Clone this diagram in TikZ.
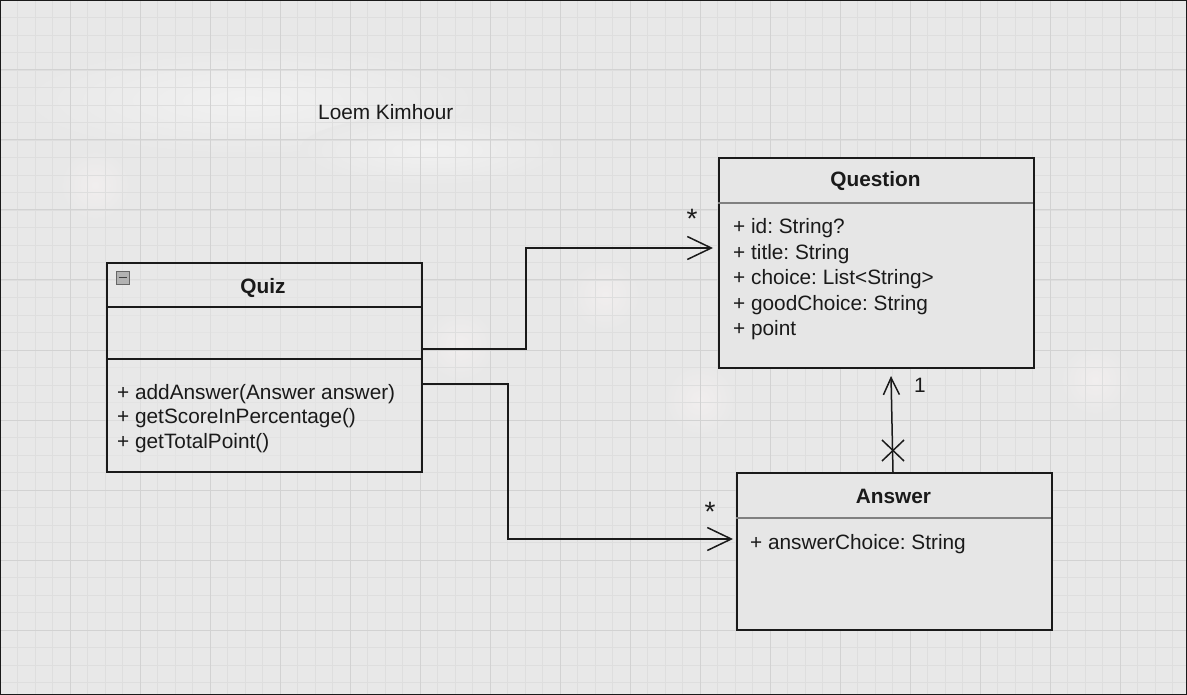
\documentclass[tikz,border=0pt]{standalone}
\usepackage{fontspec}
\setmainfont{Liberation Sans}
\usetikzlibrary{arrows.meta}
\definecolor{bg}{HTML}{E8E8E8}
\definecolor{gridminor}{HTML}{DEDEDE}
\definecolor{gridmajor}{HTML}{D2D2D2}
\definecolor{boxfill}{HTML}{E6E6E6}
\definecolor{ink}{HTML}{1A1A1A}
\tikzset{
  umlbox/.style={draw=ink, line width=1.8pt, rectangle, anchor=north west, inner sep=0pt},
  txt/.style={anchor=base west, inner sep=0pt, text=ink, font=\fontsize{20.8}{25}\selectfont\frenchspacing},
  ttl/.style={anchor=base, inner sep=0pt, text=ink, font=\fontsize{20.8}{25}\selectfont\bfseries},
  star/.style={anchor=base, inner sep=0pt, text=ink, font=\fontsize{28}{30}\selectfont},
  conn/.style={draw=ink, line width=1.5pt},
  openarrow/.style={-{Straight Barb[length=24pt,width=23pt,line width=1.5pt]}},
  smallarrow/.style={-{Straight Barb[length=17pt,width=16pt,line width=1.5pt]}},
}
\begin{document}
\begin{tikzpicture}[x=1pt,y=-1pt]
\useasboundingbox (0,0) rectangle (1187,695);
\fill[bg] (0,0) rectangle (1187,695);
% soft haze
\foreach \cx/\cy/\rx/\ry in {250/100/230/55, 430/150/130/35, 900/250/140/80}{
  \shade[inner color=white!40!bg, outer color=bg] (\cx,\cy) ellipse[x radius=\rx, y radius=\ry];
}
\foreach \cx/\cy in {95/185, 460/345, 700/400, 605/295, 1095/380}{
  \shade[inner color=red!3!white!40!bg, outer color=bg] (\cx,\cy) circle[radius=35];
}
% grid
\foreach \i in {1,...,67}{
  \draw[gridminor, line width=0.8pt] (\i*17.5,0) -- (\i*17.5,695);
}
\foreach \j in {1,...,39}{
  \draw[gridminor, line width=0.8pt] (0,\j*17.5) -- (1187,\j*17.5);
}
\foreach \i in {1,...,16}{
  \draw[gridmajor, line width=1pt] (\i*70,0) -- (\i*70,695);
}
\foreach \j in {1,...,9}{
  \draw[gridmajor, line width=1pt] (0,\j*70) -- (1187,\j*70);
}
\draw[ink, line width=1pt] (0.5,0.5) rectangle (1186.5,694.5);

% author
\node[txt] (author) at (318,120) {Loem Kimhour};

% Quiz
\node[umlbox, fill=bg, fill opacity=0.5, minimum width=315pt, minimum height=209pt] (quiz) at (106,262) {};
\draw[ink, line width=1.8pt] (106,307) -- (421,307);
\draw[ink, line width=1.8pt] (106,359) -- (421,359);
\node[draw=black!60, fill=black!30, line width=0.8pt, minimum size=13pt, inner sep=0pt] (icon) at (122.5,277.5) {};
\draw[black!75, line width=1.4pt] (118.5,277.5) -- (126.5,277.5);
\node[ttl] (quizt) at (263,294) {Quiz};
\node[txt] (m1) at (117,399) {+ addAnswer(Answer answer)};
\node[txt] (m2) at (117,423) {+ getScoreInPercentage()};
\node[txt] (m3) at (117,448) {+ getTotalPoint()};

% Question
\node[umlbox, fill=boxfill, minimum width=315pt, minimum height=210pt] (question) at (718,157) {};
\draw[black!50, line width=1.5pt] (718,203) -- (1033,203);
\node[ttl] (questiont) at (875.5,187) {Question};
\node[txt] (q1) at (733,234) {+ id: String?};
\node[txt] (q2) at (733,260) {+ title: String};
\node[txt] (q3) at (733,285) {+ choice: List<String>};
\node[txt] (q4) at (733,311) {+ goodChoice: String};
\node[txt] (q5) at (733,336) {+ point};

% Answer
\node[umlbox, fill=boxfill, minimum width=315pt, minimum height=157pt] (answer) at (736,472) {};
\draw[black!50, line width=1.5pt] (736,518) -- (1051,518);
\node[ttl] (answert) at (893.5,503) {Answer};
\node[txt] (a1) at (750,549) {+ answerChoice: String};

% connectors
\coordinate (qtip) at (713,248);
\coordinate (atip) at (733,539);
\coordinate (qa1) at (421,349);
\coordinate (qa2) at (421,384);
\draw[conn, openarrow] (qa1) -- (526,349) -- (526,248) -- (qtip);
\draw[conn, openarrow] (qa2) -- (508,384) -- (508,539) -- (atip);
\coordinate (abot) at (893,472);
\coordinate (qbot) at (891,376);
\draw[conn, smallarrow] (abot) -- (qbot);
\draw[conn] (882,440) -- (904,461);
\draw[conn] (882,461) -- (904,440);

% multiplicities
\node[star] (m1star) at (692,229) {*};
\node[star] (m2star) at (710,521) {*};
\node[txt, anchor=base] (one) at (920,392) {1};
\end{tikzpicture}
\end{document}
